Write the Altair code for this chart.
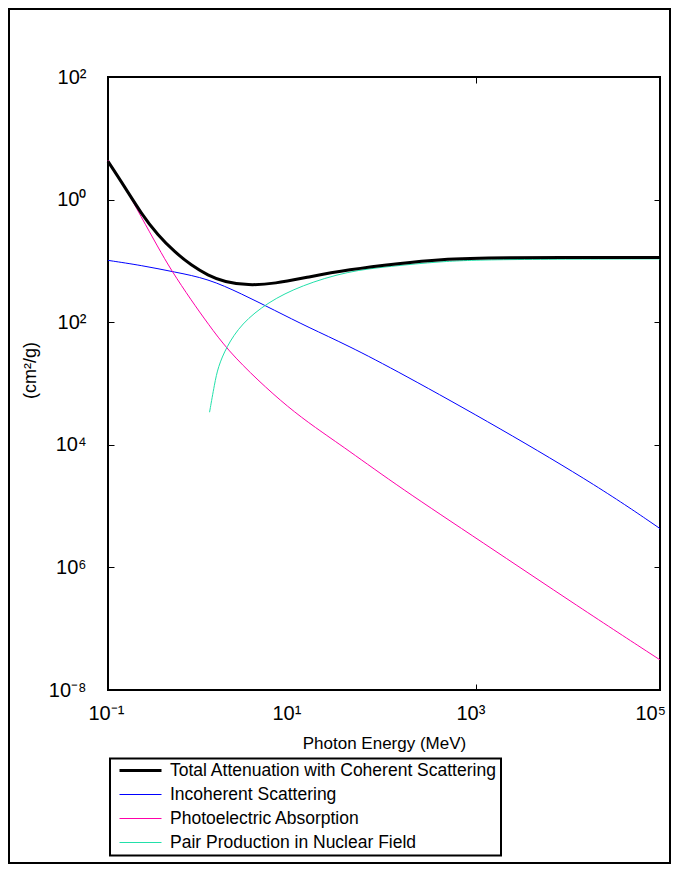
import altair as alt
import pandas as pd

series_names = [
    "Total Attenuation with Coherent Scattering",
    "Incoherent Scattering",
    "Photoelectric Absorption",
    "Pair Production in Nuclear Field",
]
series_colors = ["#000000", "#0000ff", "#ff00aa", "#22e0aa"]
series_widths = [3, 1, 1, 1]

# photon energy (MeV) and mass attenuation coefficient (cm^2/g)
total_energy = [0.1, 0.152, 0.230, 0.349, 0.531, 0.805, 1.22, 1.85, 3.33, 6.49, 14.9, 40.6, 149, 405, 1400, 100000]
total_mu = [4.2, 1.61, 0.59, 0.261, 0.1396, 0.0846, 0.0581, 0.0452, 0.0398, 0.0425, 0.0545, 0.072, 0.0912, 0.106, 0.114, 0.114]

incoherent_energy = [0.1, 0.230, 0.531, 1.22, 2.81, 6.49, 14.9, 40.6, 149, 1830, 22400, 100000]
incoherent_mu = [0.102, 0.0846, 0.0658, 0.0513, 0.0292, 0.0156, 0.0083, 0.00417, 0.00151, 0.000186, 2.0e-5, 4.3e-6]

photo_energy = [0.1, 0.146, 0.230, 0.349, 0.487, 0.805, 1.22, 2.01, 4.27, 9.05, 17.6, 38.9, 149, 1104, 13500, 100000]
photo_mu = [4.38, 1.82, 0.52, 0.168, 0.0701, 0.0227, 0.00946, 0.00347, 0.00112, 0.000411, 0.000194, 8.6e-5, 2.0e-5, 2.73e-6, 2.2e-7, 3.1e-8]

pair_energy = [1.27, 1.44, 1.57, 1.93, 2.81, 5.48, 12.6, 40.6, 116, 406, 1420, 100000]
pair_mu = [3.4e-4, 9.9e-4, 0.00185, 0.00392, 0.00946, 0.0213, 0.0398, 0.0683, 0.0813, 0.098, 0.106, 0.108]

x_tick_values = [0.1, 10, 1000, 100000]
x_tick_exponents = [-1, 1, 3, 5]
x_tick_labels = ["10⁻¹", "10¹", "10³", "10⁵"]
y_tick_values = [100, 1, 0.01, 0.0001, 1e-6, 1e-8]
y_tick_exponents = [2, 0, -2, -4, -6, -8]
y_tick_labels = ["10²", "10⁰", "10²", "10⁴", "10⁶", "10⁻⁸"]
x_inner_ticks = [1000]
y_inner_ticks = [1, 0.01, 0.0001, 1e-6]

rows = []
for name, es, ms in [
    (series_names[1], incoherent_energy, incoherent_mu),
    (series_names[2], photo_energy, photo_mu),
    (series_names[3], pair_energy, pair_mu),
    (series_names[0], total_energy, total_mu),
]:
    for e, m in zip(es, ms):
        rows.append({"series": name, "energy": e, "mu": m})
df = pd.DataFrame(rows)


def label_expr(exps, labels):
    parts = [f"round(log(datum.value) / LN10) == {k} ? '{lab}'" for k, lab in zip(exps, labels)]
    return " : ".join(parts) + " : ''"


FONT = "Liberation Sans"
xscale = alt.Scale(type="log", domain=[0.1, 100000])
yscale = alt.Scale(type="log", domain=[1e-8, 100])

legend = alt.Legend(
    orient="none", legendX=2, legendY=681.5, title=None,
    symbolType="stroke", symbolSize=1764, clipHeight=16, rowPadding=6,
    labelFontSize=17.5, labelFont=FONT, labelColor="black", labelLimit=700,
    labelOffset=7, symbolOffset=4, padding=4, strokeColor="black",
)

lines = alt.Chart(df).mark_line(interpolate="basis", strokeCap="butt").encode(
    x=alt.X(
        "energy:Q", scale=xscale,
        axis=alt.Axis(
            orient="bottom", values=x_tick_values,
            labelExpr=label_expr(x_tick_exponents, x_tick_labels),
            title="Photon Energy (MeV)", offset=-6, tickSize=6, domain=False, grid=False,
            tickOpacity={"condition": {"test": "datum.value == 1000", "value": 1}, "value": 0},
            labelAlign="left",
            labelOffset={"condition": {"test": "datum.value == 100000", "value": -25}, "value": -20},
            labelBaseline="top", labelPadding=13,
            labelFontSize=20, labelFlush=False, labelOverlap=False, labelBound=False,
            titleFontSize=17, titleFontWeight="normal", titleY=59, titleBaseline="middle",
        ),
    ),
    y=alt.Y(
        "mu:Q", scale=yscale,
        axis=alt.Axis(
            orient="left", values=y_tick_values,
            labelExpr=label_expr(y_tick_exponents, y_tick_labels),
            title="(cm²/g)", offset=-6, tickSize=6, domain=False, grid=False,
            labelPadding=22, labelFontSize=20, labelBaseline="middle", labelAlign="right",
            labelFlush=False, labelOverlap=False, labelBound=False,
            titleX=-84, titleY=293, titleAngle=270, titleBaseline="middle",
            titleFontSize=18, titleFontWeight="normal",
        ),
    ),
    color=alt.Color("series:N", scale=alt.Scale(domain=series_names, range=series_colors), legend=legend),
    strokeWidth=alt.StrokeWidth(
        "series:N",
        scale=alt.Scale(type="ordinal", domain=series_names, range=series_widths),
        legend=legend,
    ),
)

ticks = alt.Chart(df[df["series"] == series_names[0]]).mark_point(opacity=0).encode(
    x=alt.X("energy:Q", scale=xscale,
            axis=alt.Axis(orient="top", values=x_inner_ticks, labels=False, title=None,
                          offset=-6, tickSize=6, domain=False, grid=False)),
    y=alt.Y("mu:Q", scale=yscale,
            axis=alt.Axis(orient="right", values=y_inner_ticks, labels=False, title=None,
                          offset=-6, tickSize=6, domain=False, grid=False)),
)

frame = alt.Chart(pd.DataFrame({"k": [0]})).mark_rect(fillOpacity=0, stroke="black", strokeWidth=2).encode(
    x=alt.value(-99), x2=alt.value(562), y=alt.value(-68), y2=alt.value(786)
)

chart = (
    alt.layer(lines, ticks, frame)
    .resolve_axis(x="independent", y="independent")
    .properties(
        width=552, height=613,
        padding={"left": 100, "top": 69, "right": 11, "bottom": 174},
        autosize=alt.AutoSizeParams(type="none"),
        background="white",
    )
    .configure(font=FONT)
    .configure_view(stroke="black", strokeWidth=2)
    .configure_axis(labelColor="black", titleColor="black", tickColor="black", tickWidth=1,
                    labelFont=FONT, titleFont=FONT)
    .configure_legend(strokeWidth=2)
)

chart.save("out.html", embed_options={"renderer": "svg", "actions": False})
